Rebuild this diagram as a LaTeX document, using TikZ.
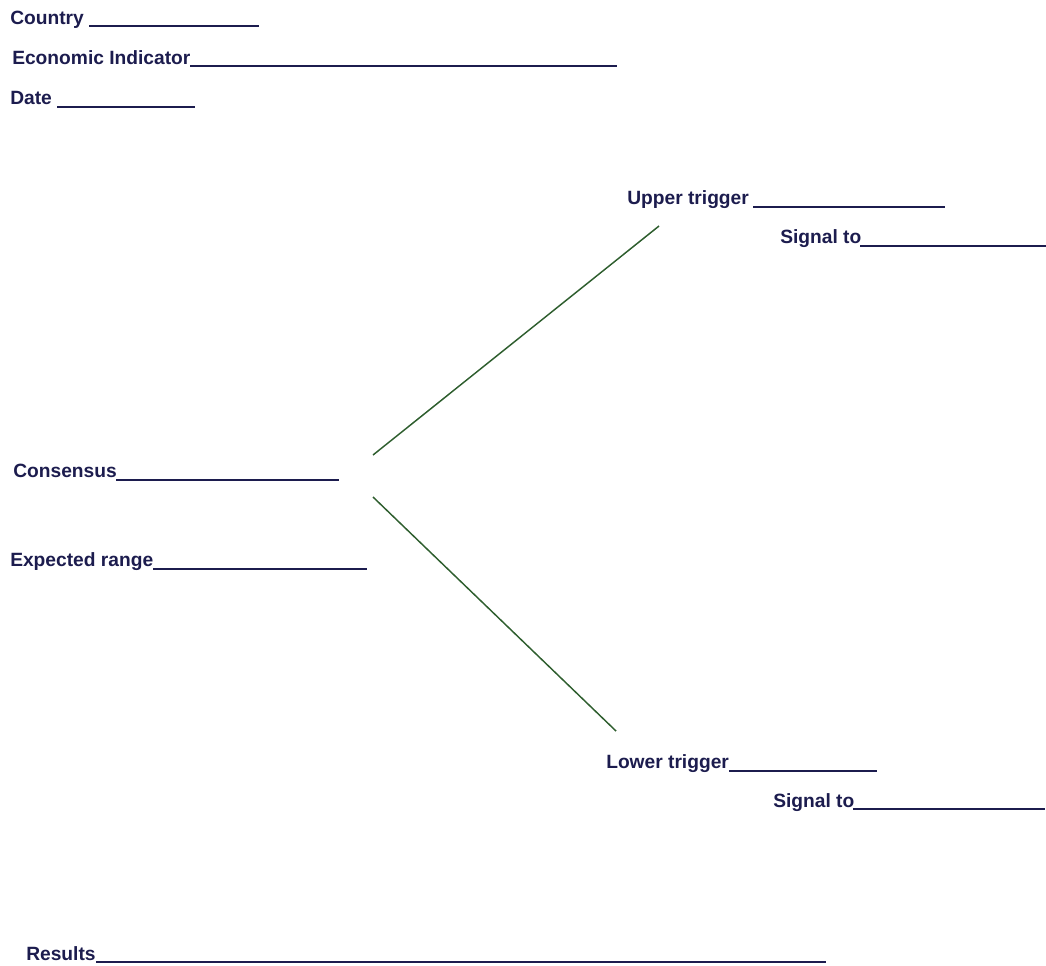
\documentclass[tikz,border=0pt]{standalone}
\usepackage{fontspec}
\setmainfont{Liberation Sans}
\definecolor{navy}{RGB}{28,28,78}
\definecolor{lgreen}{RGB}{46,94,46}
\tikzset{
  lbl/.style={anchor=base west, inner sep=0pt, text=navy, font=\bfseries\fontsize{14.4}{16}\selectfont},
  ul/.style={draw=navy, line width=1.5pt},
  branch/.style={draw=lgreen, line width=1.1pt}
}
\begin{document}
\begin{tikzpicture}[x=0.75pt, y=-0.75pt]
\useasboundingbox (0,0) rectangle (1046,965);
% header
\node[lbl] (country) at (10,24.5) {Country};
\draw[ul] (89,26) coordinate (countryA) -- (259,26) coordinate (countryB);
\node[lbl] (econ) at (12,64) {Economic Indicator};
\draw[ul] (190,66) coordinate (econA) -- (617,66) coordinate (econB);
\node[lbl] (date) at (10,104) {Date};
\draw[ul] (57,106.5) coordinate (dateA) -- (195,106.5) coordinate (dateB);
% upper
\node[lbl] (upper) at (627,204) {Upper trigger};
\draw[ul] (753,206.5) coordinate (upA) -- (945,206.5) coordinate (upB);
\node[lbl] (sig1) at (780,243) {Signal to};
\draw[ul] (860,245.5) coordinate (s1A) -- (1046,245.5) coordinate (s1B);
% left
\node[lbl] (cons) at (13,477) {Consensus};
\draw[ul] (116,479.5) coordinate (consA) -- (339,479.5) coordinate (consB);
\node[lbl] (range) at (10,566) {Expected range};
\draw[ul] (153,568.5) coordinate (rangeA) -- (367,568.5) coordinate (rangeB);
% lower
\node[lbl] (lower) at (606,768) {Lower trigger};
\draw[ul] (729,770.5) coordinate (lowA) -- (877,770.5) coordinate (lowB);
\node[lbl] (sig2) at (773,807) {Signal to};
\draw[ul] (853,809) coordinate (s2A) -- (1045,809) coordinate (s2B);
% results
\node[lbl] (results) at (26,960) {Results};
\draw[ul] (96,962) coordinate (resA) -- (826,962) coordinate (resB);
% branches
\coordinate (b1s) at (373,455);
\coordinate (b1e) at (659,226);
\coordinate (b2s) at (373,497);
\coordinate (b2e) at (616,731);
\draw[branch] (b1s) -- (b1e);
\draw[branch] (b2s) -- (b2e);
\end{tikzpicture}
\end{document}
